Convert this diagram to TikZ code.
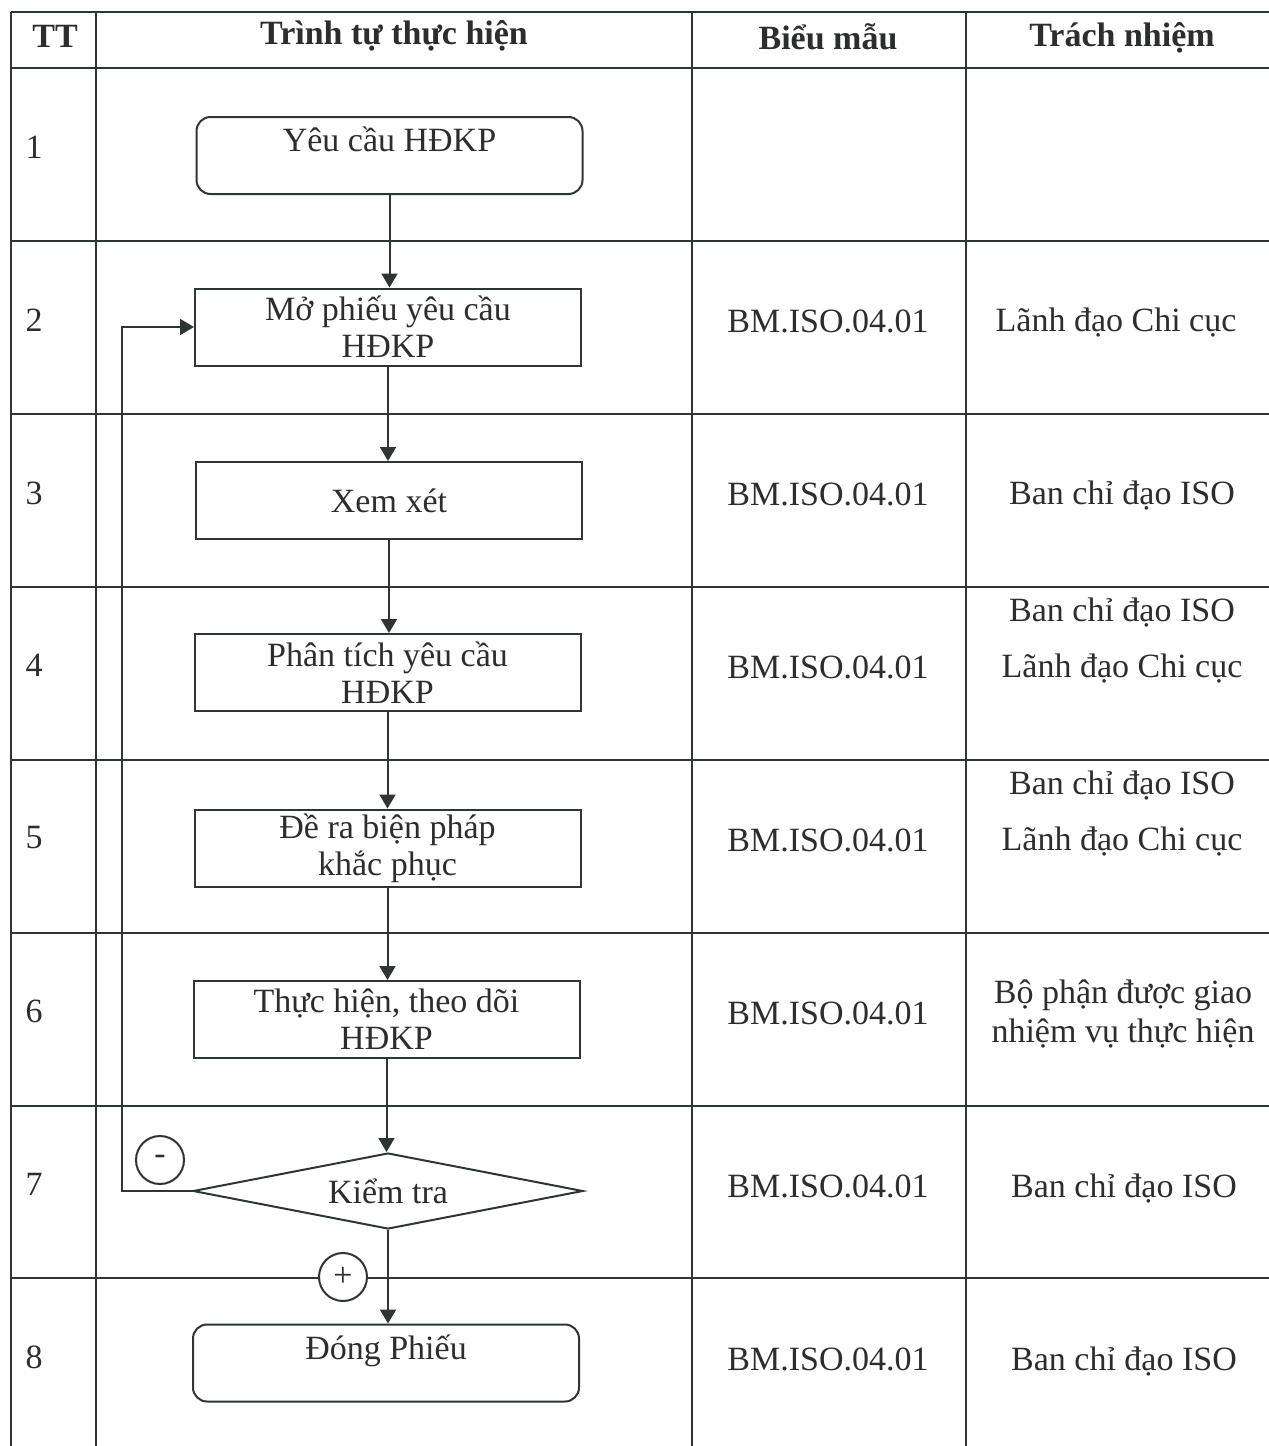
\documentclass[tikz,border=0pt]{standalone}
\usepackage{fontspec}
\setmainfont{Liberation Serif}
\usetikzlibrary{shapes.geometric,arrows.meta}
\definecolor{ink}{HTML}{2B2E2D}
\definecolor{linec}{HTML}{2F3533}
\begin{document}
\begin{tikzpicture}[x=0.5pt,y=-0.5pt,
  every node/.style={font=\fontsize{17}{18.5}\selectfont, text=ink},
  gridline/.style={draw=linec, line width=0.9pt},
  stepbox/.style={draw=linec, line width=1pt, minimum width=193pt, minimum height=38.5pt, inner sep=0pt, align=center},
  roundbox/.style={stepbox, rounded corners=7pt},
  decision/.style={diamond, aspect=5.1, draw=linec, line width=1pt, minimum width=195pt, minimum height=38pt, inner sep=0pt},
  mark circ/.style={circle, draw=linec, line width=1pt, fill=white, minimum size=24pt, inner sep=0pt},
  arr/.style={draw=linec, line width=1pt, -{Triangle[length=7pt,width=8pt]}},
  headtxt/.style={font=\fontsize{17}{18.5}\selectfont\bfseries},
  celltxt/.style={align=center}
]
\useasboundingbox (0,0) rectangle (1269,1446);

% table grid
\draw[gridline] (11,12) -- (1269,12);
\foreach \yy in {68,241,414,587,760,933,1106,1278}
  \draw[gridline] (11,\yy) -- (1269,\yy);
\foreach \xx in {11,96,692,966}
  \draw[gridline] (\xx,12) -- (\xx,1446);

% header
\node[headtxt] (hTT) at (55,36) {TT};
\node[headtxt] (hTr) at (394,36) {Trình tự thực hiện};
\node[headtxt] (hBm) at (828,37) {Biểu mẫu};
\node[headtxt] (hTn) at (1122,38) {Trách nhiệm};

% row numbers
\node (n1) at (34,147) {1};
\node (n2) at (34,320) {2};
\node (n3) at (34,493) {3};
\node (n4) at (34,665) {4};
\node (n5) at (34,838) {5};
\node (n6) at (34,1011) {6};
\node (n7) at (34,1184) {7};
\node (n8) at (34,1357) {8};

% flow boxes
\node[roundbox] (b1) at (389.5,155.5) {Yêu cầu HĐKP\\[-8pt]\strut};
\node[stepbox] (b2) at (388,327) {Mở phiếu yêu cầu\\HĐKP};
\node[stepbox] (b3) at (389,500.5) {Xem xét};
\node[stepbox] (b4) at (387.5,672.5) {Phân tích yêu cầu\\HĐKP};
\node[stepbox] (b5) at (387.5,848) {Đề ra biện pháp\\khắc phục};
\node[stepbox] (b6) at (386.5,1019.5) {Thực hiện, theo dõi\\HĐKP};
\node[decision] (d7) at (388,1191) {Kiểm tra};
\node[roundbox] (b8) at (386,1363) {Đóng Phiếu\\[-8pt]\strut};

% connectors
\draw[arr] (b1.south) -- (b1.south |- b2.north);
\draw[arr] (b2.south) -- (b2.south |- b3.north);
\draw[arr] (b3.south) -- (b3.south |- b4.north);
\draw[arr] (b4.south) -- (b4.south |- b5.north);
\draw[arr] (b5.south) -- (b5.south |- b6.north);
\draw[arr] (b6.south) -- (b6.south |- d7.north);
\draw[arr] (d7.south) -- (d7.south |- b8.north);
\coordinate (lp) at (122,1191);
\draw[arr] (d7.west) -- (lp) |- (b2.west);

% decision marks
\node[mark circ] (cm) at (160,1160) {-};
\node[mark circ] (cp) at (343,1277) {+};

% forms column
\node (f2) at (828,321) {BM.ISO.04.01};
\node (f3) at (828,494) {BM.ISO.04.01};
\node (f4) at (828,667) {BM.ISO.04.01};
\node (f5) at (828,840) {BM.ISO.04.01};
\node (f6) at (828,1013) {BM.ISO.04.01};
\node (f7) at (828,1186) {BM.ISO.04.01};
\node (f8) at (828,1359) {BM.ISO.04.01};

% responsibility column
\node (r2) at (1116,323) {Lãnh đạo Chi cục};
\node (r3) at (1122,496) {Ban chỉ đạo ISO};
\node (r4a) at (1122,613) {Ban chỉ đạo ISO};
\node (r4b) at (1122,669) {Lãnh đạo Chi cục};
\node (r5a) at (1122,786) {Ban chỉ đạo ISO};
\node (r5b) at (1122,842) {Lãnh đạo Chi cục};
\node[celltxt] (r6) at (1123,1014) {Bộ phận được giao\\[1.2pt]nhiệm vụ thực hiện};
\node (r7) at (1124,1189) {Ban chỉ đạo ISO};
\node (r8) at (1124,1362) {Ban chỉ đạo ISO};
\end{tikzpicture}
\end{document}
